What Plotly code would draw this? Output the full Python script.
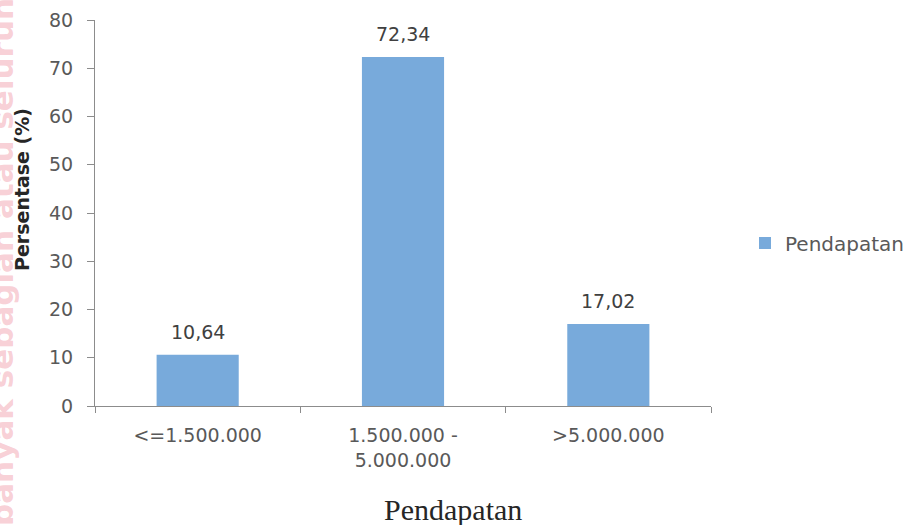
import plotly.graph_objects as go

# Income groups (Rupiah) and share of respondents (%)
categories = ["<=1.500.000", "1.500.000 -<br>5.000.000", ">5.000.000"]
percentages = [10.64, 72.34, 17.02]
series_name = "Pendapatan"
y_ticks = [0, 10, 20, 30, 40, 50, 60, 70, 80]

BAR_COLOR = "#78AADB"
AXIS_COLOR = "#8C8C8C"
TICK_FONT = dict(family="DejaVu Sans", size=19, color="#595959")

# plot-area geometry in pixels, used to place page-level texts
PLOT_LEFT, PLOT_RIGHT, PLOT_TOP, PLOT_BOTTOM = 95, 711, 20, 406


def px_to_paper_x(px):
    return (px - PLOT_LEFT) / (PLOT_RIGHT - PLOT_LEFT)


def px_to_paper_y(py):
    return (PLOT_BOTTOM - py) / (PLOT_BOTTOM - PLOT_TOP)


fig = go.Figure()
fig.add_trace(go.Bar(
    x=categories,
    y=percentages,
    name=series_name,
    marker=dict(color=BAR_COLOR, line=dict(width=0)),
    showlegend=True,
))

# value labels above each bar, comma as decimal mark
for cat, val in zip(categories, percentages):
    fig.add_annotation(
        x=cat, y=val, xref="x", yref="y",
        text=f"{val:.2f}".replace(".", ","),
        showarrow=False, yanchor="bottom", yshift=10,
        font=dict(family="DejaVu Sans", size=19, color="#404040"),
    )

# x-axis title, centred on the page
fig.add_annotation(
    x=px_to_paper_x(453), y=0, xref="paper", yref="paper",
    text="Pendapatan", showarrow=False,
    xanchor="center", yanchor="top", yshift=-85,
    font=dict(family="Liberation Serif", size=30, color="#262626"),
)

# y-axis title
fig.add_annotation(
    x=px_to_paper_x(22), y=px_to_paper_y(190), xref="paper", yref="paper",
    text="<b>Persentase (%)</b>", showarrow=False,
    textangle=-90, xanchor="center", yanchor="middle",
    font=dict(family="DejaVu Sans", size=19, color="#262626"),
)

# pale vertical watermark along the left edge
fig.add_annotation(
    x=px_to_paper_x(2), y=px_to_paper_y(262), xref="paper", yref="paper",
    text="<b>banyak sebagian atau seluruh</b>", showarrow=False,
    textangle=-90, xanchor="center", yanchor="middle",
    font=dict(family="DejaVu Sans", size=31, color="rgba(240,150,165,0.45)"),
)

fig.update_layout(
    width=906, height=525,
    margin=dict(l=PLOT_LEFT, r=906 - PLOT_RIGHT, t=PLOT_TOP, b=525 - PLOT_BOTTOM,
                autoexpand=False),
    paper_bgcolor="white", plot_bgcolor="white",
    bargap=0.6,
    separators=",.",
    legend=dict(
        x=px_to_paper_x(745), y=px_to_paper_y(243), xanchor="left", yanchor="middle",
        font=dict(family="DejaVu Sans", size=20, color="#595959"),
        bgcolor="rgba(0,0,0,0)", itemwidth=30,
    ),
    xaxis=dict(
        range=[-0.5, 2.5],
        showline=True, linecolor=AXIS_COLOR, linewidth=1,
        ticks="outside", tickson="boundaries", ticklen=6, tickcolor=AXIS_COLOR,
        showgrid=False, zeroline=False,
        tickfont=TICK_FONT, ticklabelstandoff=12,
    ),
    yaxis=dict(
        range=[0, 80], tickvals=y_ticks,
        showline=True, linecolor=AXIS_COLOR, linewidth=1,
        ticks="outside", ticklen=7, tickcolor=AXIS_COLOR,
        showgrid=False, zeroline=False,
        tickfont=TICK_FONT, ticklabelstandoff=10,
    ),
)

fig.write_html("out.html")
